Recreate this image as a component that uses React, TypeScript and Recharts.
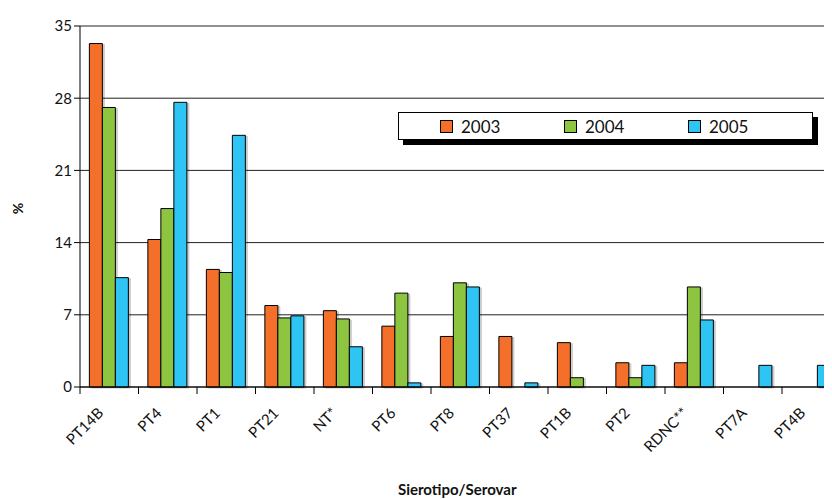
import React from 'react'
import { BarChart, Bar, XAxis, YAxis, CartesianGrid } from 'recharts'

const categories = ['PT14B', 'PT4', 'PT1', 'PT21', 'NT*', 'PT6', 'PT8', 'PT37', 'PT1B', 'PT2', 'RDNC**', 'PT7A', 'PT4B']
const v2003 = [33.3, 14.3, 11.4, 7.9, 7.4, 5.9, 4.9, 4.9, 4.3, 2.35, 2.35, 0, 0]
const v2004 = [27.1, 17.3, 11.1, 6.7, 6.6, 9.1, 10.1, 0, 0.9, 0.9, 9.7, 0, 0]
const v2005 = [10.6, 27.6, 24.4, 6.9, 3.9, 0.4, 9.7, 0.4, 0, 2.1, 6.5, 2.1, 2.1]
const yTicks = [0, 7, 14, 21, 28, 35]
const series = [
  { key: 'y2003', label: '2003' },
  { key: 'y2004', label: '2004' },
  { key: 'y2005', label: '2005' },
]

const data = categories.map((name, i) => ({
  name,
  y2003: v2003[i],
  y2004: v2004[i],
  y2005: v2005[i],
}))

const COLORS: Record<string, string> = { y2003: '#F36F2A', y2004: '#8DC541', y2005: '#2EC4F4' }
const FONT = 'Lato, "Open Sans", sans-serif'

const CHART_W = 850
const M_LEFT = 32
const Y_W = 40
const M_RIGHT = 17.5
const PLOT_W = CHART_W - M_LEFT - Y_W - M_RIGHT
const HALF_BAND = PLOT_W / categories.length / 2

function XTick(props: any) {
  const { x, y, payload } = props
  return (
    <g>
      <line x1={x - HALF_BAND} y1={y - 8} x2={x - HALF_BAND} y2={y - 1} stroke="#000" strokeWidth={1} />
      <text
        x={x - 5}
        y={y + 19}
        transform={`rotate(-45, ${x - 5}, ${y + 19})`}
        textAnchor="end"
        fontSize={15}
        fontFamily={FONT}
        fill="#111"
      >
        {payload.value}
      </text>
    </g>
  )
}

function LegendBox() {
  return (
    <div
      style={{
        position: 'absolute',
        left: 390,
        top: 104,
        width: 415,
        height: 28,
        border: '1px solid #000',
        background: '#fff',
        boxShadow: '5px 5px 0 #000',
        display: 'flex',
        alignItems: 'center',
        paddingLeft: 41,
        boxSizing: 'border-box',
        fontFamily: FONT,
        fontSize: 17,
        color: '#111',
      }}
    >
      {series.map((it) => (
        <div key={it.key} style={{ width: 139, display: 'flex', alignItems: 'center' }}>
          <span
            style={{
              display: 'inline-block',
              width: 11,
              height: 11,
              border: '1px solid #000',
              background: COLORS[it.key],
              marginRight: 8,
            }}
          />
          {it.label}
        </div>
      ))}
    </div>
  )
}

export default function App() {
  const barStyle = { filter: 'drop-shadow(2px 1px 0 rgba(0,0,0,0.2))' }
  return (
    <div style={{ width: 824, height: 491, overflow: 'hidden', position: 'relative' }}>
      <BarChart
        width={CHART_W}
        height={491}
        data={data}
        margin={{ top: 18, right: M_RIGHT, bottom: 32, left: M_LEFT }}
        barCategoryGap="16%"
        barGap={0}
      >
        <CartesianGrid vertical={false} stroke="#222" strokeWidth={1} />
        <XAxis
          dataKey="name"
          interval={0}
          height={80}
          axisLine={{ stroke: '#000' }}
          tickLine={false}
          tick={<XTick />}
          label={{
            content: (p: any) => {
              const vb = p.viewBox
              return (
                <text
                  x={vb.x + vb.width / 2 - 3}
                  y={vb.y + vb.height + 28}
                  textAnchor="middle"
                  fontSize={15}
                  fontWeight="bold"
                  fontFamily={FONT}
                  fill="#111"
                >
                  Sierotipo/Serovar
                </text>
              )
            },
          }}
        />
        <YAxis
          width={Y_W}
          domain={[0, 35]}
          ticks={yTicks}
          interval={0}
          axisLine={{ stroke: '#000' }}
          tickLine={{ stroke: '#000' }}
          tickSize={6}
          tick={{ fontSize: 15, fontFamily: FONT, fill: '#111' }}
          label={{
            content: (p: any) => {
              const vb = p.viewBox
              const cx = vb.x - 17
              const cy = vb.y + vb.height / 2 + 2
              return (
                <text
                  x={cx}
                  y={cy}
                  transform={`rotate(-90, ${cx}, ${cy})`}
                  textAnchor="middle"
                  fontSize={14}
                  fontWeight="bold"
                  fontFamily={FONT}
                  fill="#111"
                >
                  %
                </text>
              )
            },
          }}
        />
        {series.map((s) => (
          <Bar
            key={s.key}
            dataKey={s.key}
            name={s.label}
            fill={COLORS[s.key]}
            stroke="#000"
            strokeWidth={1}
            isAnimationActive={false}
            style={barStyle}
          />
        ))}
      </BarChart>
      <LegendBox />
    </div>
  )
}
